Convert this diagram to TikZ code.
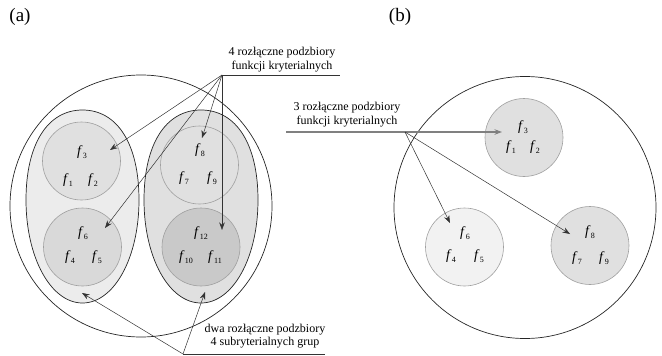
\documentclass[tikz,border=0pt]{standalone}
\usepackage{fontspec}
\setmainfont{Liberation Serif}
\usetikzlibrary{arrows.meta,shapes.geometric}
\newcommand{\fsub}[1]{\textit{f}\kern0.4pt\raisebox{-0.5ex}{\fontsize{8}{8}\selectfont #1}}
\definecolor{ellA}{HTML}{ECECEC}
\definecolor{ellB}{HTML}{E0E0E0}
\definecolor{cirA}{HTML}{E0E0E0}
\definecolor{cirB}{HTML}{D9D9D9}
\definecolor{cirC}{HTML}{C9C9C9}
\definecolor{cirD}{HTML}{F2F2F2}
\definecolor{rimgray}{HTML}{A0A0A0}
\tikzset{
  bigcirc/.style={circle,draw=black!85,line width=0.7pt,minimum size=262pt,inner sep=0pt},
  groupline/.style={draw=black!85,line width=0.7pt},
  subset/.style={circle,draw=rimgray,line width=0.6pt,minimum size=78pt,inner sep=0pt},
  flab/.style={font=\fontsize{14}{14}\selectfont,inner sep=0pt},
  caption/.style={font=\fontsize{12}{13.5}\selectfont,align=center,inner sep=0pt},
  panel/.style={font=\fontsize{19}{20}\selectfont,inner sep=0pt},
  arr/.style={draw=black!80,line width=0.5pt,-{Stealth[length=7.5pt,width=5.5pt]}},
  uline/.style={draw=black!80,line width=0.6pt}
}
\begin{document}
\begin{tikzpicture}[x=1pt,y=-1pt]
\useasboundingbox (0,0) rectangle (662,356);
% panel labels
\node[panel] (pa) at (20,17) {(a)};
\node[panel] (pb) at (400,17) {(b)};
% ---------- (a) ----------
\node[bigcirc] (bigA) at (141,206) {};
% egg-shaped group outlines
\path[groupline,fill=ellA] (139,200) .. controls (139,144.2) and (117.5,110) .. (82.5,110)
  .. controls (47.5,110) and (26,144.2) .. (26,200)
  .. controls (26,257.7) and (50.9,303) .. (82.5,303)
  .. controls (114.1,303) and (139,257.7) .. (139,200) -- cycle;
\path[groupline,fill=ellB] (258,200) .. controls (258,144.2) and (236.3,110) .. (201,110)
  .. controls (165.7,110) and (144,144.2) .. (144,200)
  .. controls (144,257.7) and (169.1,303) .. (201,303)
  .. controls (232.9,303) and (258,257.7) .. (258,200) -- cycle;
\node[subset,fill=cirA] (cA3) at (81.5,161) {};
\node[subset,fill=cirB] (cA6) at (82.5,247) {};
\node[subset,fill=ellB] (cA8) at (199.5,165) {};
\node[subset,fill=cirC] (cA12) at (201,247) {};
\node[flab] (a3) at (82,152) {\fsub{3}};
\node[flab] (a1) at (68,180) {\fsub{1}};
\node[flab] (a2) at (93,180) {\fsub{2}};
\node[flab] (a6) at (83,233) {\fsub{6}};
\node[flab] (a4) at (70,257) {\fsub{4}};
\node[flab] (a5) at (97,257) {\fsub{5}};
\node[flab] (a8) at (200,150) {\fsub{8}};
\node[flab] (a7) at (184,178) {\fsub{7}};
\node[flab] (a9) at (212,178) {\fsub{9}};
\node[flab] (a12) at (201,233) {\fsub{12}};
\node[flab] (a10) at (186,257) {\fsub{10}};
\node[flab] (a11) at (215,257) {\fsub{11}};
% top caption (a)
\node[caption] (capA) at (282,59.5) {4 rozłączne podzbiory\\funkcji kryterialnych};
\coordinate (oA) at (222,75);
\coordinate (eA) at (340,75);
\draw[uline] (oA) -- (eA);
\coordinate (tA3) at (110,150);
\coordinate (tA6) at (105,228);
\coordinate (tA8) at (202,138);
\coordinate (tA12) at (222,230);
\draw[arr] (oA) -- (tA3);
\draw[arr] (oA) -- (tA6);
\draw[arr] (oA) -- (tA8);
\draw[arr] (oA) -- (tA12);
% bottom caption (a)
\node[caption] (capB) at (265,336) {dwa rozłączne podzbiory\\4 subryterialnych grup};
\coordinate (oB) at (183,354);
\coordinate (eB) at (325,354);
\draw[uline] (oB) -- (eB);
\coordinate (tBL) at (82,293);
\coordinate (tBR) at (205,292);
\draw[arr] (oB) -- (tBL);
\draw[arr] (oB) -- (tBR);
% ---------- (b) ----------
\node[bigcirc] (bigB) at (525,207.5) {};
\node[subset,fill=cirA] (cB3) at (524,137.5) {};
\node[subset,fill=cirD] (cB6) at (464.5,247) {};
\node[subset,fill=cirA] (cB8) at (590,245.5) {};
\node[flab] (b3) at (523,127) {\fsub{3}};
\node[flab] (b1) at (511,147) {\fsub{1}};
\node[flab] (b2) at (535,147) {\fsub{2}};
\node[flab] (b6) at (465,233) {\fsub{6}};
\node[flab] (b4) at (451,256) {\fsub{4}};
\node[flab] (b5) at (479,256) {\fsub{5}};
\node[flab] (b8) at (590,232) {\fsub{8}};
\node[flab] (b7) at (577,258) {\fsub{7}};
\node[flab] (b9) at (604,258) {\fsub{9}};
\node[caption] (capC) at (347,114.5) {3 rozłączne podzbiory\\funkcji kryterialnych};
\coordinate (uC) at (286,132);
\coordinate (oC) at (405,132);
\coordinate (tB3) at (502,132);
\coordinate (tB6) at (450,223);
\coordinate (tB8) at (570,234);
\draw[draw=black!50,line width=1.1pt] (uC) -- (oC);
\draw[draw=black!50,line width=1.1pt,-{Stealth[length=7.5pt,width=5.5pt,fill=black!80]}] (oC) -- (tB3);
\draw[arr] (oC) -- (tB6);
\draw[arr] (oC) -- (tB8);
\end{tikzpicture}
\end{document}
